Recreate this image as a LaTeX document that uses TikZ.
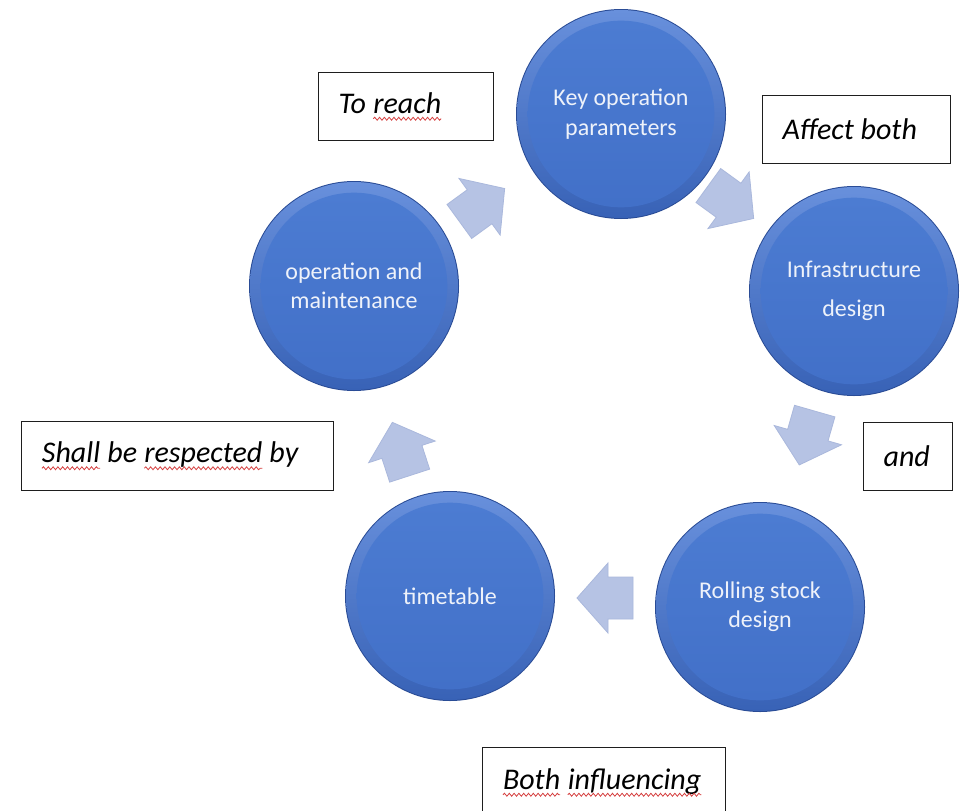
\documentclass[tikz,border=0pt]{standalone}
\usepackage{fontspec}
\setmainfont{Carlito}
\usetikzlibrary{decorations.pathmorphing}
\definecolor{circtext}{RGB}{238,242,250}
\definecolor{arrowfill}{RGB}{182,195,228}
\definecolor{arrowedge}{RGB}{170,184,220}
\definecolor{rimdark}{RGB}{42,76,150}
\definecolor{rimlight}{RGB}{104,144,220}
\definecolor{rimmid}{RGB}{56,98,182}
\definecolor{facetop}{RGB}{76,124,210}
\definecolor{facebot}{RGB}{66,112,200}
\definecolor{squig}{RGB}{214,64,64}
\definecolor{boxline}{RGB}{30,30,30}

\DeclareRobustCommand\boxfont{\fontsize{22.5}{26}\selectfont\itshape}

\newcommand\sqw[1]{\tikz[baseline=(w.base)]{\node[inner sep=0pt,outer sep=0pt,text width={},minimum width=0pt,minimum height=0pt,anchor=base,draw=none,fill=none] (w) {#1};\draw[squig,line width=0.6pt,decorate,decoration={snake,amplitude=1.1pt,segment length=3.6pt}] ([yshift=-4pt]w.base west) -- ([yshift=-4pt]w.base east);}}

\newcommand\bubble[4]{%
  \fill[rimdark] (#2) circle (78.75pt);
  \shade[top color=rimlight,bottom color=rimmid] (#2) circle (78pt);
  \shade[top color=facetop,bottom color=facebot] (#2) circle (70pt);
  \node[bubtext,#4] (#1) at (#2) {#3};}

\newcommand\cyarrow[3]{%
  \begin{scope}[shift={(#2)},rotate=#3]
    \filldraw[arrowstyle] (-28,-21) -- (-3,-21) -- (-3,-35) -- (28,0) -- (-3,35) -- (-3,21) -- (-28,21) -- cycle;
    \coordinate (#1) at (0,0);
  \end{scope}}

\tikzset{
  bubtext/.style={circle,minimum size=157.5pt,inner sep=0pt,text=circtext,align=center,font=\fontsize{18}{22}\selectfont},
  arrowstyle/.style={fill=arrowfill,draw=arrowedge,line width=0.6pt,line join=miter},
  tbox/.style={draw=boxline,line width=0.9pt,fill=white,anchor=north west,inner xsep=15pt,inner ysep=0pt,align=flush left,font=\boxfont}
}

\begin{document}
\begin{tikzpicture}[x=0.75pt,y=-0.75pt]
\fill[white] (0,0) rectangle (966,810);
\useasboundingbox (0,0) rectangle (966,810);

\bubble{kop}{621,114}{Key operation\\parameters}{}
\bubble{inf}{854,291}{Infrastructure\\design}{font=\fontsize{18}{29}\selectfont}
\bubble{rsd}{760,607}{Rolling stock\\design}{}
\bubble{tt}{450,596}{timetable}{}
\bubble{om}{354,286}{operation and\\maintenance}{}

\cyarrow{a1}{482,205}{36}
\cyarrow{a2}{731,202}{-36}
\cyarrow{a3}{807,438}{-106}
\cyarrow{a4}{605,598}{180}
\cyarrow{a5}{401,449}{108}

\node[tbox,minimum width=131.25pt,minimum height=51pt,text width=101.25pt] (t1) at (318,72) {To \sqw{reach}};
\node[tbox,minimum width=141pt,minimum height=51pt,text width=111pt] (t2) at (762,95) {Affect both};
\node[tbox,minimum width=66.75pt,minimum height=51pt,text width=36.75pt] (t3) at (863,422) {and};
\node[tbox,minimum width=234pt,minimum height=51.75pt,text width=204pt] (t4) at (21,421) {\sqw{Shall} be \sqw{respected} by};
\node[tbox,minimum width=182.25pt,minimum height=52.5pt,text width=152.25pt] (t5) at (482,747) {\sqw{Both} \sqw{influencing}};
\end{tikzpicture}
\end{document}
